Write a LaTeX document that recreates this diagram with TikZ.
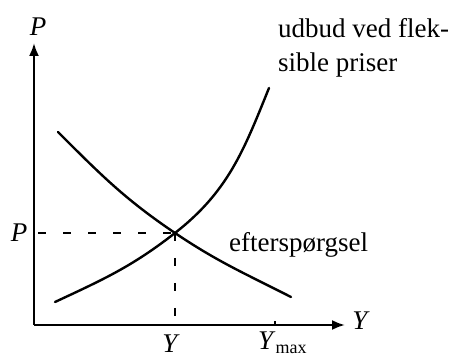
\documentclass[tikz,border=0pt]{standalone}
\usepackage{fontspec}
\setmainfont{Liberation Serif}
\usetikzlibrary{arrows.meta, positioning}
\tikzset{
  axis/.style={line width=2.2pt,-{Latex[length=13pt,width=10pt]}},
  curve/.style={line width=2.4pt,line cap=round},
  guide/.style={line width=1.6pt,dash pattern=on 8pt off 17pt},
  lbl/.style={inner sep=0pt,font=\fontsize{27}{34}\selectfont}
}

\begin{document}
\begin{tikzpicture}[x=1pt,y=1pt]
\useasboundingbox (0,0) rectangle (460,358);
\coordinate (o) at (34,33);
\coordinate (ytop) at (34,315);
\coordinate (xend) at (345,33);
\coordinate (eq) at (175,125);
\coordinate (peq) at (38,125);
\coordinate (yeq) at (175,33);
\coordinate (ymax) at (275,33);
\coordinate (ymaxtick) at (275,37);
\coordinate (d0) at (58,226);
\coordinate (d1) at (291,61);
\coordinate (s0) at (55,56);
\coordinate (s1) at (269,270);
\draw[axis] (o) -- (ytop);
\draw[axis] (o) -- (xend);
\draw[line width=1.6pt] (ymax) -- (ymaxtick);
\draw[curve] (d0) to[out=-45,in=146] (eq) to[out=-34,in=153] (d1);
\draw[curve] (s0) to[out=25,in=-142] (eq) to[out=38,in=-112] (s1);
\draw[guide] (peq) -- (eq);
\draw[guide] (eq) -- (yeq);
\node[lbl] (ptop) at (38,331) {\textit{P}};
\node[lbl] (pleft) at (19,125) {\textit{P}};
\node[lbl] (yright) at (361,37) {\textit{Y}};
\node[lbl, anchor=base] (yeqlabel) at (171,5) {\textit{Y}};
\node[lbl, anchor=base west] (ymaxlabel) at (258,8) {\textit{Y}\raisebox{-4pt}{\fontsize{18}{18}\selectfont max}};
\node[lbl, anchor=base west] (demand) at (229,106) {efterspørgsel};
\node[lbl, anchor=base west, align=left] (supply) at (278,286) {udbud ved flek-\\sible priser};
\end{tikzpicture}
\end{document}
